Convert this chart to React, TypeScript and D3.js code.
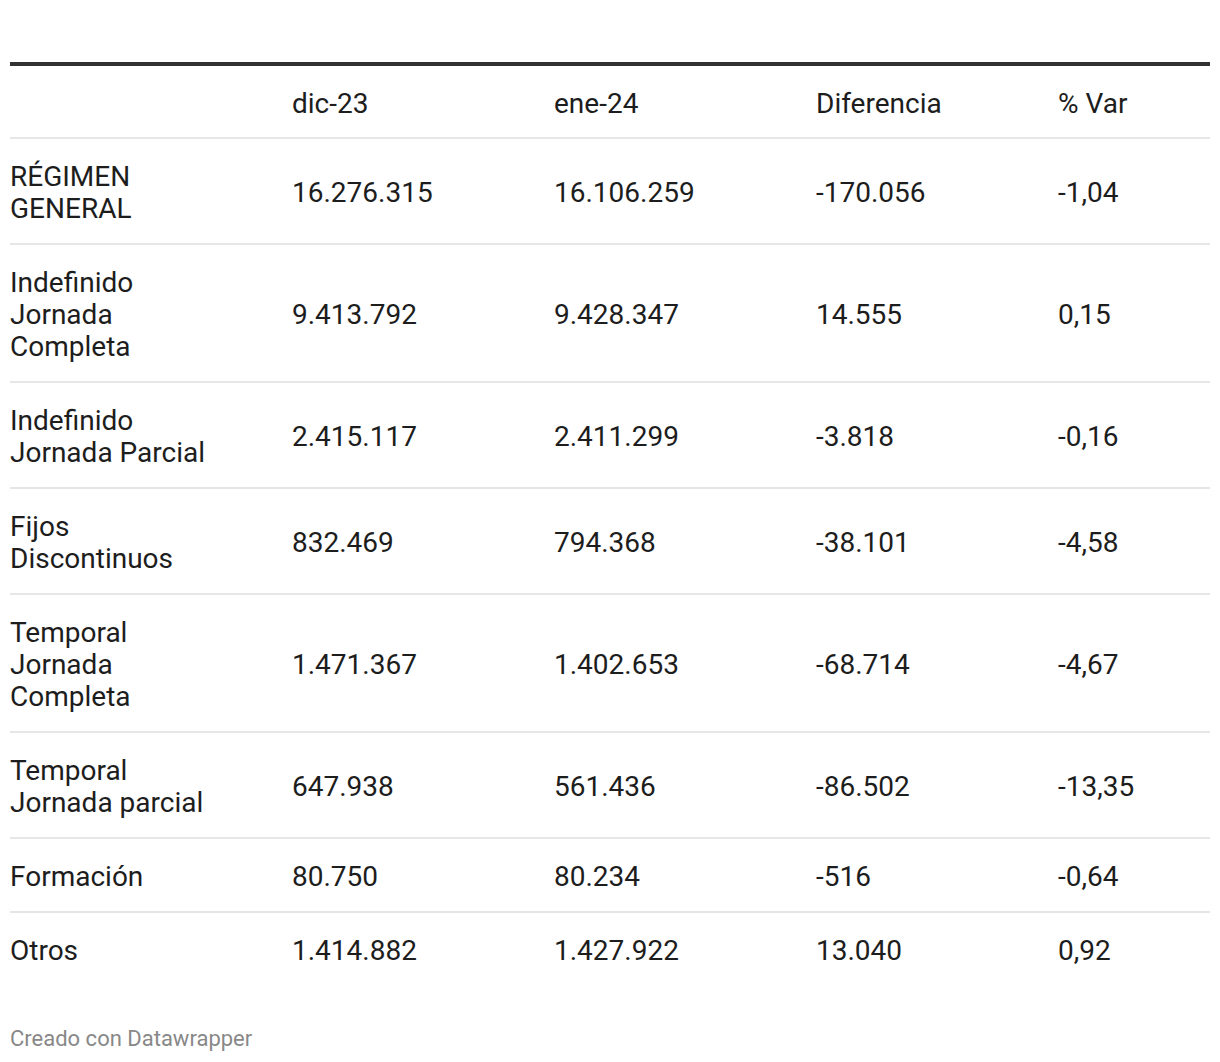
import React from "react";
import * as d3 from "d3";

const columns = ["", "dic-23", "ene-24", "Diferencia", "% Var"];
const rowLabels: string[][] = [
  ["RÉGIMEN", "GENERAL"],
  ["Indefinido", "Jornada", "Completa"],
  ["Indefinido", "Jornada Parcial"],
  ["Fijos", "Discontinuos"],
  ["Temporal", "Jornada", "Completa"],
  ["Temporal", "Jornada parcial"],
  ["Formación"],
  ["Otros"],
];
const dic23 = [16276315, 9413792, 2415117, 832469, 1471367, 647938, 80750, 1414882];
const ene24 = [16106259, 9428347, 2411299, 794368, 1402653, 561436, 80234, 1427922];
const diferencia = [-170056, 14555, -3818, -38101, -68714, -86502, -516, 13040];
const pctVar = [-1.04, 0.15, -0.16, -4.58, -4.67, -13.35, -0.64, 0.92];

const W = 1220;
const H = 1062;
const FONT = "Roboto, 'Noto Sans', sans-serif";
const FS = 28;
const LH = 32;
const PAD = 21;
const left = 10;
const right = 1210;
const colX = [10, 292, 554, 816, 1058];

const fmtInt = (v: number) => {
  const s = Math.abs(v).toString().replace(/\B(?=(\d{3})+(?!\d))/g, ".");
  return (v < 0 ? "-" : "") + s;
};
const fmtPct = (v: number) => {
  const s = Math.abs(v).toFixed(2).replace(".", ",");
  return (v < 0 ? "-" : "") + s;
};

export default function App() {
  const topLineY = 64;
  const headerH = 74;
  const heights = rowLabels.map((l) => l.length * LH + 2 * PAD);
  const tops: number[] = [];
  let y = topLineY + 2 + headerH - 2;
  heights.forEach((h) => {
    tops.push(y);
    y += h;
  });
  const xScale = d3.scaleOrdinal<number, number>().domain(d3.range(columns.length)).range(colX);
  const headerY = topLineY + 2 + (headerH - 2) / 2 + 1;

  return (
    <svg width={W} height={H} style={{ display: "block", position: "absolute", left: 0, top: 0 }} fontFamily={FONT}>
      <rect width={W} height={H} fill="#fff" />
      <line x1={left} x2={right} y1={topLineY} y2={topLineY} stroke="#333" strokeWidth={4} />
      {columns.map((c, i) => (
        <text key={i} x={xScale(i)} y={headerY} dy="0.35em" fontSize={FS} fill="#1d1d1d">
          {c}
        </text>
      ))}
      {rowLabels.map((lab, r) => {
        const top = tops[r];
        const h = heights[r];
        const cy = top + h / 2 + 1;
        const vals = [fmtInt(dic23[r]), fmtInt(ene24[r]), fmtInt(diferencia[r]), fmtPct(pctVar[r])];
        return (
          <g key={r}>
            <line x1={left} x2={right} y1={top} y2={top} stroke="#e6e6e6" strokeWidth={2} />
            {lab.map((t, k) => (
              <text key={k} x={xScale(0)} y={cy + (k - (lab.length - 1) / 2) * LH} dy="0.35em" fontSize={FS} fill="#1d1d1d">
                {t}
              </text>
            ))}
            {vals.map((v, k) => (
              <text key={"v" + k} x={xScale(k + 1)} y={cy} dy="0.35em" fontSize={FS} fill="#1d1d1d">
                {v}
              </text>
            ))}
          </g>
        );
      })}
      <text x={left} y={1038} dy="0.35em" fontSize={22} fill="#888">
        Creado con Datawrapper
      </text>
    </svg>
  );
}
